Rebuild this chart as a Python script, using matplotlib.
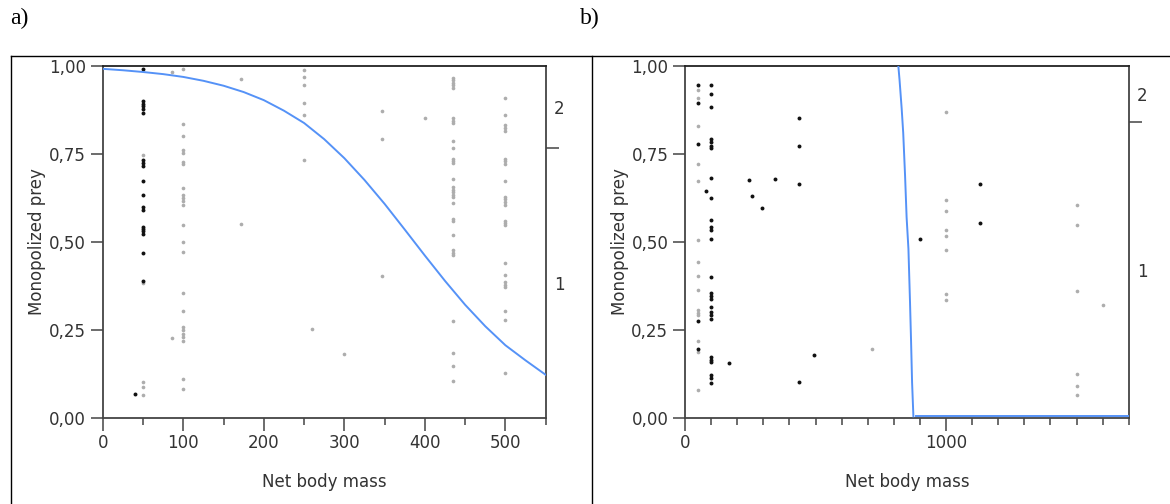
import matplotlib
matplotlib.use("Agg")
import matplotlib.pyplot as plt
from matplotlib.lines import Line2D
from matplotlib.ticker import FixedLocator, MultipleLocator

# ---- panel a) data: (x, [y values]) columns ----
a_dark = [
    (50, [0.992, 0.900, 0.893, 0.886, 0.878, 0.867, 0.732, 0.725, 0.717, 0.674,
          0.633, 0.599, 0.592, 0.542, 0.536, 0.530, 0.523, 0.469, 0.390]),
    (40, [0.068]),
]
a_gray = [
    (50, [0.748, 0.384, 0.102, 0.088, 0.064]),
    (86, [0.984, 0.227]),
    (100, [0.992, 0.836, 0.801, 0.760, 0.753, 0.727, 0.720, 0.654, 0.634, 0.625,
           0.615, 0.606, 0.549, 0.500, 0.471, 0.356, 0.303, 0.258, 0.249, 0.239,
           0.230, 0.218, 0.111, 0.081]),
    (172, [0.962, 0.550]),
    (250, [0.990, 0.970, 0.945, 0.895, 0.861, 0.732]),
    (260, [0.251]),
    (300, [0.182]),
    (347, [0.872, 0.792, 0.404]),
    (400, [0.853]),
    (435, [0.966, 0.959, 0.953, 0.945, 0.937, 0.852, 0.845, 0.839, 0.788, 0.766,
           0.737, 0.730, 0.723, 0.678, 0.656, 0.648, 0.642, 0.634, 0.627, 0.611,
           0.566, 0.559, 0.519, 0.476, 0.469, 0.462, 0.276, 0.184, 0.147, 0.105]),
    (500, [0.910, 0.861, 0.831, 0.824, 0.816, 0.737, 0.730, 0.722, 0.674, 0.627,
           0.621, 0.613, 0.606, 0.558, 0.553, 0.547, 0.439, 0.407, 0.386, 0.378,
           0.371, 0.303, 0.279, 0.127]),
]
a_curve_x = [0, 25, 50, 75, 100, 125, 150, 175, 200, 225, 250, 275, 300, 325,
             350, 375, 400, 425, 450, 475, 500, 525, 550]
a_curve_y = [0.992, 0.988, 0.983, 0.977, 0.969, 0.958, 0.944, 0.926, 0.903, 0.873,
             0.838, 0.792, 0.738, 0.676, 0.608, 0.535, 0.461, 0.389, 0.321, 0.260,
             0.206, 0.163, 0.122]
a_split = 0.768

# ---- panel b) data ----
b_dark = [
    (50, [0.947, 0.896, 0.779, 0.274, 0.196]),
    (80, [0.645]),
    (100, [0.947, 0.921, 0.883, 0.793, 0.784, 0.774, 0.767, 0.681, 0.625, 0.561,
           0.542, 0.533, 0.509, 0.400, 0.354, 0.346, 0.338, 0.314, 0.301, 0.292,
           0.281, 0.172, 0.164, 0.157, 0.121, 0.112, 0.098]),
    (170, [0.156]),
    (245, [0.675]),
    (258, [0.630]),
    (296, [0.597]),
    (345, [0.678]),
    (435, [0.852, 0.773, 0.664, 0.102]),
    (495, [0.178]),
    (900, [0.509]),
    (1130, [0.664, 0.553]),
]
b_gray = [
    (50, [0.931, 0.909, 0.829, 0.720, 0.673, 0.504, 0.444, 0.403, 0.362, 0.305,
          0.298, 0.293, 0.217, 0.187, 0.080]),
    (715, [0.194]),
    (1000, [0.870, 0.620, 0.588, 0.535, 0.516, 0.476, 0.352, 0.335]),
    (1500, [0.604, 0.548, 0.359, 0.123, 0.089, 0.066]),
    (1600, [0.320]),
]
b_curve_x = [815, 822, 830, 836, 843, 849, 856, 862, 866, 870, 875]
b_curve_y = [1.02, 0.96, 0.88, 0.81, 0.69, 0.57, 0.48, 0.33, 0.22, 0.10, 0.004]
b_tail_x = [885, 1700]
b_tail_y = [0.004, 0.004]
b_split = 0.84

y_ticks = [0, 0.25, 0.5, 0.75, 1.0]
y_tick_labels = ["0,00", "0,25", "0,50", "0,75", "1,00"]

TXT = "#333333"
SPINE = "#444444"
BLUE = "#5592f7"
FS = 12


def expand(cols):
    xs, ys = [], []
    for x, vals in cols:
        xs += [x] * len(vals)
        ys += vals
    return xs, ys


def draw_panel(ax, gray, dark, xmax, major, minor, split):
    gx, gy = expand(gray)
    dx, dy = expand(dark)
    ax.scatter(gx, gy, s=7, color="#adadad", linewidths=0, zorder=2)
    ax.scatter(dx, dy, s=8, color="#111111", linewidths=0, zorder=3)
    ax.set_xlim(0, xmax)
    ax.set_ylim(0, 1)
    ax.xaxis.set_major_locator(FixedLocator(major))
    ax.xaxis.set_minor_locator(MultipleLocator(minor))
    ax.set_yticks(y_ticks)
    ax.set_yticklabels(y_tick_labels)
    ax.tick_params(axis="both", which="major", direction="out", length=9, width=1.1,
                   color=SPINE, labelcolor=TXT, labelsize=FS, pad=3)
    ax.tick_params(axis="x", which="minor", direction="out", length=5, width=1.1, color=SPINE)
    ax.tick_params(axis="y", which="minor", left=False)
    for s in ax.spines.values():
        s.set_color(SPINE)
        s.set_linewidth(1.3)
    ax.spines["top"].set_color("#222222")
    ax.set_xlabel("Net body mass", fontsize=FS, color=TXT, labelpad=15)
    ax.set_ylabel("Monopolized prey", fontsize=FS, color=TXT, labelpad=2)

    # right axis: category split marker with labels 1 and 2
    rx = ax.twinx()
    rx.set_ylim(0, 1)
    rx.set_yticks([split])
    rx.set_yticklabels([""])
    rx.yaxis.set_minor_locator(FixedLocator([split / 2, (split + 1) / 2]))
    rx.set_yticklabels(["1", "2"], minor=True)
    rx.tick_params(axis="y", which="major", direction="out", length=9, width=1.1, color=SPINE)
    rx.tick_params(axis="y", which="minor", length=0, labelsize=FS, labelcolor=TXT, pad=6)
    for s in rx.spines.values():
        s.set_visible(False)


fig = plt.figure(figsize=(11.7, 5.04), dpi=100)

ax_a = fig.add_axes([0.0878, 0.1712, 0.3786, 0.6978])
draw_panel(ax_a, a_gray, a_dark, 550, [0, 100, 200, 300, 400, 500], 50, a_split)
ax_a.plot(a_curve_x, a_curve_y, color=BLUE, lw=1.4, zorder=4)

ax_b = fig.add_axes([0.5855, 0.1712, 0.3792, 0.6978])
draw_panel(ax_b, b_gray, b_dark, 1700, [0, 1000], 100, b_split)
ax_b.plot(b_curve_x, b_curve_y, color=BLUE, lw=1.4, zorder=4)
ax_b.plot(b_tail_x, b_tail_y, color=BLUE, lw=1.4, zorder=4)

# table-like frame around the two panels
top = 1 - 55.7 / 504
fig.add_artist(Line2D([0.0091, 1.0], [top, top], color="black", lw=1.0))
fig.add_artist(Line2D([0.0091, 0.0091], [0, top], color="black", lw=1.0))
fig.add_artist(Line2D([0.5062, 0.5062], [0, top], color="black", lw=1.0))

fig.text(0.0085, 1 - 8 / 504, "a)", family="Liberation Serif", fontsize=17, va="top", ha="left")
fig.text(0.4955, 1 - 8 / 504, "b)", family="Liberation Serif", fontsize=17, va="top", ha="left")

fig.savefig("out.png", dpi=100)
